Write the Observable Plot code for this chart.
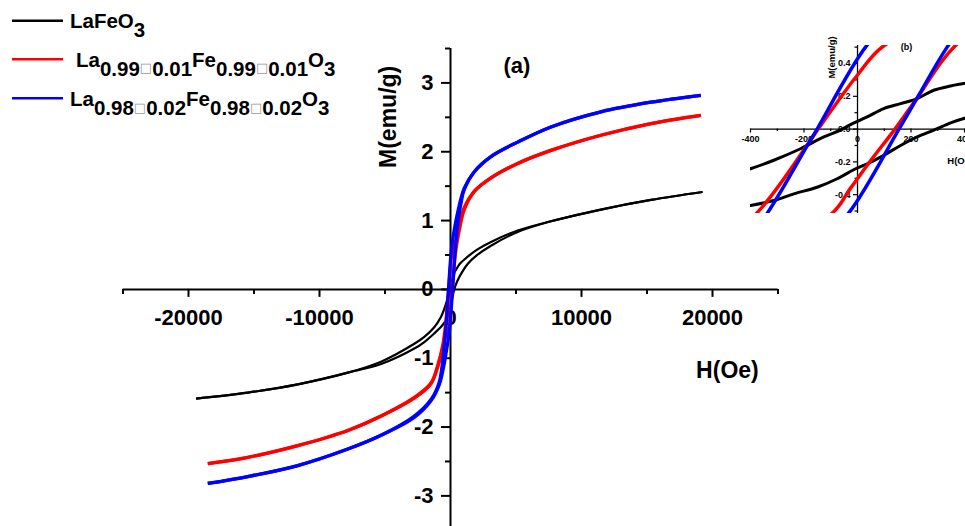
<!DOCTYPE html>
<html><head><meta charset="utf-8">
<script src="https://cdn.jsdelivr.net/npm/d3@7"></script>
<script src="https://cdn.jsdelivr.net/npm/@observablehq/plot@0.6"></script>
<style>
html,body{margin:0;padding:0;background:#fff;overflow:hidden;}
#wrap{position:relative;width:965px;height:526px;overflow:hidden;background:#fff;}
#main{position:absolute;left:0;top:0;}
#inset{position:absolute;left:700px;top:0;width:300px;height:230px;}
</style></head>
<body><div id="wrap"><div id="main"></div><div id="inset"></div></div>
<script>
// ---------- data ----------
const sampleNames = ["LaFeO3", "La0.99□0.01Fe0.99□0.01O3", "La0.98□0.02Fe0.98□0.02O3"];
const sampleColors = ["#000000", "#ff0000", "#0000ff"];

// LaFeO3: descending branch (H from + to -) and ascending branch (H from - to +)
const blackDownH = [19240, 15300, 11480, 7670, 5130, 3090, 2000, 1310, 700, 404, 348, 285, 223, 161, 98, 36, -26, -64, -126, -213, -313, -400, -700, -1240, -2000, -2760, -5300, -7840, -11660, -15470, -19420];
const blackDownM = [1.415, 1.30, 1.16, 0.99, 0.855, 0.69, 0.575, 0.475, 0.37, 0.28, 0.263, 0.237, 0.186, 0.155, 0.125, 0.074, 0.027, -0.006, -0.048, -0.12, -0.19, -0.242, -0.39, -0.55, -0.69, -0.79, -1.05, -1.21, -1.38, -1.50, -1.587];
const blackUpH = [-19420, -15470, -11660, -7840, -5300, -2760, -2000, -1240, -700, -400, -313, -238, -151, -76, -7, 36, 98, 161, 223, 285, 348, 404, 700, 1310, 2000, 3090, 5130, 7670, 11480, 15300, 19240];
const blackUpM = [-1.587, -1.50, -1.38, -1.21, -1.085, -0.86, -0.765, -0.64, -0.54, -0.466, -0.436, -0.395, -0.355, -0.303, -0.242, -0.212, -0.16, -0.10, -0.048, -0.007, 0.038, 0.068, 0.19, 0.37, 0.495, 0.635, 0.835, 0.99, 1.16, 1.30, 1.415];

// La0.99 sample (red)
const redDownH = [19110, 15300, 11480, 7670, 5130, 3090, 1800, 1050, 670, 400, 100, 0, -147, -182, -375, -600, -1000, -1490, -2760, -5300, -7840, -11660, -15470, -18530];
const redDownM = [2.53, 2.41, 2.24, 2.02, 1.83, 1.62, 1.42, 1.19, 0.92, 0.70, 0.51, 0.33, 0.0, -0.083, -0.51, -0.82, -1.12, -1.36, -1.57, -1.84, -2.05, -2.27, -2.44, -2.53];
const redUpH = [-18530, -15470, -11660, -7840, -5300, -2760, -1490, -1000, -600, -400, -100, -26, 50, 140, 223, 360, 670, 1050, 1800, 3090, 5130, 7670, 11480, 15300, 19110];
const redUpM = [-2.53, -2.44, -2.27, -2.05, -1.84, -1.58, -1.37, -1.14, -0.86, -0.70, -0.52, -0.36, -0.19, 0.0, 0.19, 0.50, 0.86, 1.16, 1.42, 1.62, 1.83, 2.02, 2.24, 2.41, 2.53];

// La0.98 sample (blue)
const blueDownH = [19110, 15300, 11480, 7670, 5130, 3090, 1820, 1050, 550, 300, 150, 30, -151, -182, -340, -500, -850, -1490, -2760, -5300, -7840, -11660, -15470, -18530];
const blueDownM = [2.82, 2.72, 2.58, 2.36, 2.14, 1.93, 1.71, 1.47, 1.12, 0.88, 0.70, 0.50, 0.0, -0.084, -0.52, -0.86, -1.34, -1.60, -1.84, -2.12, -2.32, -2.56, -2.72, -2.82];
const blueUpH = [-18530, -15470, -11660, -7840, -5300, -2760, -1490, -850, -500, -300, -150, -32, 155, 223, 335, 500, 850, 1050, 1820, 3090, 5130, 7670, 11480, 15300, 19110];
const blueUpM = [-2.82, -2.72, -2.56, -2.32, -2.12, -1.86, -1.62, -1.38, -1.10, -0.88, -0.70, -0.51, 0.0, 0.19, 0.50, 0.86, 1.30, 1.45, 1.71, 1.93, 2.14, 2.36, 2.58, 2.72, 2.82];

// main axes ticks and labels
const xMajorTicks = [-20000, -10000, 0, 10000, 20000];
const xMinorTicks = [-25000, -15000, -5000, 5000, 15000, 25000];
const xTickLabels = ["-20000", "-10000", "0", "10000", "20000"];
const yMajorTicks = [-3, -2, -1, 0, 1, 2, 3];
const yMinorTicks = [-2.5, -1.5, -0.5, 0.5, 1.5, 2.5, 3.5];
const yTickLabels = ["-3", "-2", "-1", "0", "1", "2", "3"];

// inset ticks and labels
const insetXMajor = [-400, -200, 0, 200, 400];
const insetXMinor = [-300, -100, 100, 300];
const insetXLabels = ["-400", "-200", "0", "200", "400"];
const insetYMajor = [-0.4, -0.2, 0, 0.2, 0.4];
const insetYMinor = [-0.5, -0.3, -0.1, 0.1, 0.3, 0.5];
const insetYLabels = ["-0.4", "-0.2", "0.0", "0.2", "0.4"];

// legend text pieces: [text, level] level 0 normal, 1 subscript, 2 box
const legendParts = [
  [["LaFeO", 0], ["3", 1]],
  [["La", 0], ["0.99", 1], ["□", 2], ["0.01", 1], ["Fe", 0], ["0.99", 1], ["□", 2], ["0.01", 1], ["O", 0], ["3", 1]],
  [["La", 0], ["0.98", 1], ["□", 2], ["0.02", 1], ["Fe", 0], ["0.98", 1], ["□", 2], ["0.02", 1], ["O", 0], ["3", 1]]
];

// ---------- build tables ----------
function branch(sample, name, Hs, Ms) {
  return Hs.map((h, i) => ({sample, branch: name, H: h, M: Ms[i]}));
}
const blackData = [...branch(0, "down", blackDownH, blackDownM), ...branch(0, "up", blackUpH, blackUpM)];
const redData = [...branch(1, "down", redDownH, redDownM), ...branch(1, "up", redUpH, redUpM)];
const blueData = [...branch(2, "down", blueDownH, blueDownM), ...branch(2, "up", blueUpH, blueUpM)];

const FONT = "'Liberation Sans', Arial, Helvetica, sans-serif";

// ---------- main plot ----------
const W = 965, HT = 526, mL = 122.5, mR = 187.5, mT = 48, mB = 0;
const xDom = [-25000, 25000], yDom = [-3.445, 3.5];
const pxPerOe = (W - mL - mR) / (xDom[1] - xDom[0]);
const pxPerM = (HT - mT - mB) / (yDom[1] - yDom[0]);

const lineOpts = (color, sw) => ({x: "H", y: "M", z: "branch", stroke: color, strokeWidth: sw,
  curve: "catmull-rom", strokeLinejoin: "round", strokeLinecap: "butt"});

const main = Plot.plot({
  width: W, height: HT, marginLeft: mL, marginRight: mR, marginTop: mT, marginBottom: mB,
  x: {domain: xDom, axis: null},
  y: {domain: yDom, axis: null},
  style: {fontFamily: FONT, background: "transparent", maxWidth: "none"},
  marks: [
    Plot.ruleY([0], {x1: xDom[0], x2: xDom[1], stroke: "black", strokeWidth: 2}),
    Plot.ruleX([0], {y1: yDom[0], y2: yDom[1], stroke: "black", strokeWidth: 2}),
    Plot.ruleX(xMajorTicks, {x: d => d, y1: 0, y2: -8 / pxPerM, stroke: "black", strokeWidth: 2}),
    Plot.ruleX(xMinorTicks, {x: d => d, y1: 0, y2: -5 / pxPerM, stroke: "black", strokeWidth: 2}),
    Plot.ruleY(yMajorTicks, {y: d => d, x1: 0, x2: -9 / pxPerOe, stroke: "black", strokeWidth: 2}),
    Plot.ruleY(yMinorTicks, {y: d => d, x1: 0, x2: -5 / pxPerOe, stroke: "black", strokeWidth: 2}),
    Plot.text(xTickLabels, {x: d => +d, y: 0, text: d => d, dy: 36, lineAnchor: "bottom",
      fontSize: 22, fontWeight: "bold", fill: "black"}),
    Plot.text(yTickLabels, {x: 0, y: d => +d, text: d => d, dx: -17, textAnchor: "end", lineAnchor: "middle",
      fontSize: 22, fontWeight: "bold", fill: "black"}),
    Plot.text(["M(emu/g)"], {x: -4730, y: 2.507, text: d => d, rotate: -90, lineAnchor: "middle",
      fontSize: 23, fontWeight: "bold", fill: "black"}),
    Plot.text(["(a)"], {x: 5070, y: 3.14, text: d => d, lineAnchor: "bottom",
      fontSize: 22, fontWeight: "bold", fill: "black"}),
    Plot.text(["H(Oe)"], {x: 21140, y: -1.286, text: d => d, lineAnchor: "bottom",
      fontSize: 23, fontWeight: "bold", fill: "black"}),
    Plot.line(blackData, lineOpts(sampleColors[0], 2.2)),
    Plot.line(redData, lineOpts(sampleColors[1], 3.3)),
    Plot.line(blueData, lineOpts(sampleColors[2], 3.3))
  ]
});
document.getElementById("main").appendChild(main);

// legend (inside the svg, top-left)
const legendRows = [
  {ly: 20.7, tx: 70, ty: 28.3},
  {ly: 59.3, tx: 76, ty: 66.7},
  {ly: 98.3, tx: 70, ty: 106}
];
const svg = d3.select(main);
const leg = svg.append("g").attr("font-family", FONT).attr("font-weight", "bold")
  .attr("font-size", 20.5).attr("text-anchor", "start");
legendRows.forEach((r, i) => {
  leg.append("line").attr("x1", 12).attr("x2", 63).attr("y1", r.ly).attr("y2", r.ly)
    .attr("stroke", sampleColors[i]).attr("stroke-width", 2.5);
  const t = leg.append("text").attr("x", r.tx).attr("y", r.ty).attr("fill", "black")
    .attr("text-anchor", "start");
  legendParts[i].forEach(([s, lvl]) => {
    const ts = t.append("tspan").text(s);
    ts.attr("y", r.ty + (lvl === 1 ? 9 : lvl === 2 ? 5.5 : 0));
    if (lvl === 2) ts.attr("font-family", "'DejaVu Sans'").attr("font-weight", "normal")
      .attr("font-size", 13).attr("fill", "#999");
  });
});

// ---------- inset (b) ----------
const iW = 300, iH = 230, iL = 50, iR = 22.6, iT = 45, iB = 17;
const ixDom = [-400, 450], iyDom = [-0.515, 0.51];
const ipxPerOe = (iW - iL - iR) / (ixDom[1] - ixDom[0]);
const ipxPerM = (iH - iT - iB) / (iyDom[1] - iyDom[0]);
const ilineOpts = (color, sw) => ({...lineOpts(color, sw), clip: true});

const inset = Plot.plot({
  width: iW, height: iH, marginLeft: iL, marginRight: iR, marginTop: iT, marginBottom: iB,
  x: {domain: ixDom, axis: null},
  y: {domain: iyDom, axis: null},
  style: {fontFamily: FONT, background: "transparent", maxWidth: "none", overflow: "visible"},
  marks: [
    Plot.ruleY([0], {x1: ixDom[0], x2: ixDom[1], stroke: "black", strokeWidth: 1.3}),
    Plot.ruleX([0], {y1: iyDom[0], y2: iyDom[1], stroke: "black", strokeWidth: 1.3}),
    Plot.ruleX(insetXMajor, {x: d => d, y1: 0, y2: -4 / ipxPerM, stroke: "black", strokeWidth: 1.2}),
    Plot.ruleX(insetXMinor, {x: d => d, y1: 0, y2: -2.5 / ipxPerM, stroke: "black", strokeWidth: 1.2}),
    Plot.ruleY(insetYMajor, {y: d => d, x1: 0, x2: -4 / ipxPerOe, stroke: "black", strokeWidth: 1.2}),
    Plot.ruleY(insetYMinor, {y: d => d, x1: 0, x2: -2.5 / ipxPerOe, stroke: "black", strokeWidth: 1.2}),
    Plot.text(insetXLabels, {x: d => +d, y: 0, text: d => d, dy: 12.5, lineAnchor: "bottom",
      fontSize: 9, fontWeight: "bold", fill: "black"}),
    Plot.text(insetYLabels, {x: 0, y: d => +d, text: d => d, dx: -7, textAnchor: "end", lineAnchor: "middle",
      fontSize: 9, fontWeight: "bold", fill: "black"}),
    Plot.text(["M(emu/g)"], {x: -97, y: 0.437, text: d => d, rotate: -90, lineAnchor: "middle",
      fontSize: 9.5, fontWeight: "bold", fill: "black"}),
    Plot.text(["(b)"], {x: 183, y: 0.48, text: d => d, lineAnchor: "bottom",
      fontSize: 9, fontWeight: "bold", fill: "black"}),
    Plot.text(["H(Oe)"], {x: 384, y: -0.216, text: d => d, lineAnchor: "bottom",
      fontSize: 9.5, fontWeight: "bold", fill: "black"}),
    Plot.line(blackData, ilineOpts(sampleColors[0], 3)),
    Plot.line(redData, ilineOpts(sampleColors[1], 3.5)),
    Plot.line(blueData, ilineOpts(sampleColors[2], 3.5))
  ]
});
document.getElementById("inset").appendChild(inset);
</script>
</body></html>
